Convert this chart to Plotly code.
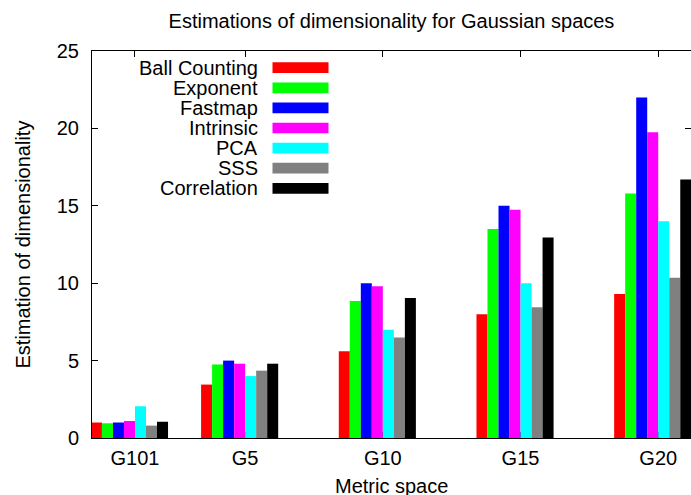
import plotly.graph_objects as go

# ---- data ----
categories = ["G101", "G5", "G10", "G15", "G20"]
category_x = [1, 5, 10, 15, 20]
series_names = ["Ball Counting", "Exponent", "Fastmap", "Intrinsic", "PCA", "SSS", "Correlation"]
ball_counting = [1.0, 3.45, 5.6, 8.0, 9.3]
exponent = [0.95, 4.75, 8.85, 13.5, 15.8]
fastmap = [1.0, 5.0, 10.0, 15.0, 22.0]
intrinsic = [1.1, 4.8, 9.8, 14.75, 19.75]
pca = [2.05, 4.0, 7.0, 10.0, 14.0]
sss = [0.8, 4.35, 6.5, 8.45, 10.35]
correlation = [1.05, 4.8, 9.05, 12.95, 16.7]
y_ticks = [0, 5, 10, 15, 20, 25]

series_values = [ball_counting, exponent, fastmap, intrinsic, pca, sss, correlation]
colors = ["#ff0000", "#00ff00", "#0000ff", "#ff00ff", "#00ffff", "#808080", "#000000"]

W, H = 691, 495
L, R, T, B = 92, 0, 51, 57
pw, ph = W - L - R, H - T - B
FONT = "Liberation Sans, Arial, Helvetica, sans-serif"
FS = 20

bar_w = 0.4
fig = go.Figure()
for i, (name, vals) in enumerate(zip(series_names, series_values)):
    fig.add_trace(go.Bar(
        x=category_x, y=vals, name=name,
        width=bar_w, offset=-1.6 + bar_w * i,
        marker=dict(color=colors[i], line=dict(width=0)),
        showlegend=False,
    ))

# manual gnuplot-style key (text right-aligned, swatch on the right)
annotations = []
shapes = []
text_right_px = 259.5
sw_x0, sw_x1 = 272.5, 328.5
row0, row_step, sw_h = 67.7, 20.1, 10.7
for i, name in enumerate(series_names):
    cy = row0 + row_step * i
    annotations.append(dict(
        x=(text_right_px - L) / pw, y=(H - B - cy) / ph, xref="paper", yref="paper",
        text=name, showarrow=False, xanchor="right", yanchor="middle",
        font=dict(family=FONT, size=FS, color="black"),
    ))
    shapes.append(dict(
        type="rect", xref="paper", yref="paper",
        x0=(sw_x0 - L) / pw, x1=(sw_x1 - L) / pw,
        y0=(H - B - cy - sw_h / 2) / ph, y1=(H - B - cy + sw_h / 2) / ph,
        fillcolor=colors[i], line=dict(width=0),
    ))

# axis titles
annotations.append(dict(
    x=0.5, y=(H - B - 486) / ph, xref="paper", yref="paper",
    text="Metric space", showarrow=False, xanchor="center", yanchor="middle",
    font=dict(family=FONT, size=FS, color="black"),
))
annotations.append(dict(
    x=(22 - L) / pw, y=0.5, xref="paper", yref="paper",
    text="Estimation of dimensionality", showarrow=False, textangle=-90,
    xanchor="center", yanchor="middle",
    font=dict(family=FONT, size=FS, color="black"),
))

fig.update_layout(
    width=W, height=H,
    margin=dict(l=L, r=R, t=T, b=B, pad=0),
    paper_bgcolor="white", plot_bgcolor="white",
    barmode="overlay",
    title=dict(
        text="Estimations of dimensionality for Gaussian spaces",
        x=(L + pw / 2) / W, xanchor="center", xref="container",
        y=1 - 21 / H, yanchor="middle", yref="container",
        font=dict(family=FONT, size=FS, color="black"),
    ),
    font=dict(family=FONT, size=FS, color="black"),
    annotations=annotations,
    shapes=shapes,
    xaxis=dict(
        range=[-0.561, 21.19],
        tickmode="array", tickvals=category_x, ticktext=categories,
        ticks="inside", ticklen=6, tickcolor="black", tickwidth=1,
        showline=True, linecolor="black", linewidth=1, mirror="ticks",
        showgrid=False, zeroline=False, layer="below traces",
        tickfont=dict(family=FONT, size=FS, color="black"),
        ticklabelstandoff=2,
    ),
    yaxis=dict(
        range=[0, 25],
        tickmode="array", tickvals=y_ticks,
        ticks="inside", ticklen=6, tickcolor="black", tickwidth=1,
        showline=True, linecolor="black", linewidth=1, mirror="ticks",
        showgrid=False, zeroline=False, layer="below traces",
        tickfont=dict(family=FONT, size=FS, color="black"),
        ticklabelstandoff=8,
    ),
)

fig.write_html("out.html")
